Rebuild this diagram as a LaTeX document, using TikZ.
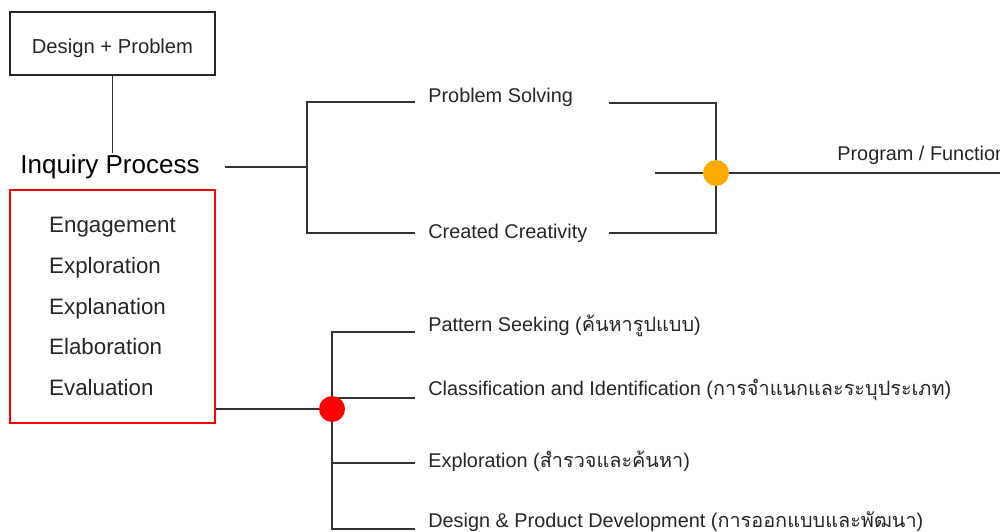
\documentclass[tikz,border=0pt]{standalone}
\usepackage{fontspec}
\setmainfont{Liberation Sans}
\newfontfamily\thaifont[Script=Thai]{Loma}
\usepackage{xcolor}
\usetikzlibrary{positioning}
\definecolor{dotorange}{RGB}{255,170,0}
\definecolor{dotred}{RGB}{255,0,0}

\begin{document}
\begin{tikzpicture}[
        x=0.2mm, y=-0.2mm,
        line/.style={draw=black!80, line width=0.8pt},
        box/.style={rectangle, draw=black!85, line width=0.9pt, minimum width=41mm, minimum height=12.6mm},
        phase/.style={rectangle, draw=red, line width=0.8pt, minimum width=41mm, minimum height=46.6mm, align=left},
        item/.style={anchor=west, inner xsep=2.6mm, text=black!85, font=\fontsize{11.3}{13}\selectfont},
        dot/.style={circle, minimum size=5.2mm, inner sep=0pt}
    ]
    \useasboundingbox (0,0) rectangle (1000,532);

    % Left column
    \node[box, text=black!85, text height=14pt, text depth=3pt, font=\fontsize{11.5}{14}\selectfont] (design) at (112.5,43.5) {Design + Problem};
    \node[inner xsep=5mm, inner ysep=1pt, font=\fontsize{14.8}{18}\selectfont] (inquiry) at (110,167) {Inquiry Process};
    \node[phase, text=black!85, font=\fontsize{12.7}{23.2}\selectfont] (phases) at (112.5,306.5)
        {Engagement\\Exploration\\Explanation\\Elaboration\\Evaluation};

    \draw[line] (design.south) -- (design.south |- inquiry.north);

    % Upper branch
    \coordinate (split) at (307,167);
    \coordinate (merge) at (716,173);
    \coordinate (solvingend) at (609,103);
    \coordinate (creativityend) at (609,233);
    \coordinate (stub) at (655,173);
    \coordinate (out) at (1000,173);
    \node[item] (solving) at (415,97) {Problem Solving};
    \node[item] (creativity) at (415,233) {Created Creativity};
    \node[item] (program) at (824,155) {Program / Function};

    \draw[line] (inquiry.east) -- (inquiry.east -| split);
    \foreach \n/\s in {solving/1, creativity/0}
        \draw[line] ([yshift=-\s mm]\n.west) -| (split);
    \draw[line] (solvingend) -| (merge) |- (creativityend);
    \draw[line] (stub) -- (out);
    \node[dot, fill=dotorange] (mergedot) at (merge) {};

    % Lower branch
    \coordinate (hub) at (332,409);
    \node[item] (pattern) at (415,326) {Pattern Seeking ({\thaifont ค้นหารูปแบบ})};
    \node[item] (classify) at (415,390) {Classification and Identification ({\thaifont การจำแนกและระบุประเภท})};
    \node[item] (explore) at (415,461) {Exploration ({\thaifont สำรวจและค้นหา})};
    \node[item] (develop) at (415,522) {Design \& Product Development ({\thaifont การออกแบบและพัฒนา})};

    \draw[line] (phases.east |- hub) -- (hub);
    \foreach \n/\s in {pattern/1.2, classify/1.6, explore/0.4, develop/1.4}
        \draw[line] ([yshift=-\s mm]\n.west) -| (hub);
    \node[dot, fill=dotred] (hubdot) at (hub) {};

\end{tikzpicture}
\end{document}
